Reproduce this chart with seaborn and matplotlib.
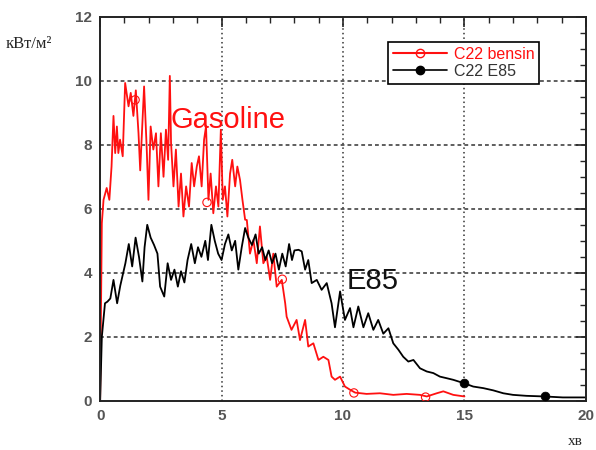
import matplotlib
matplotlib.use("Agg")
import matplotlib.pyplot as plt
from matplotlib.lines import Line2D
from matplotlib.ticker import MultipleLocator
import seaborn as sns

# C22 bensin (gasoline)
bensin_x = [0, 0.07, 0.14, 0.27, 0.38, 0.47, 0.55, 0.62, 0.69, 0.75, 0.82, 0.93,
            1.03, 1.17, 1.26, 1.37, 1.47, 1.58, 1.65, 1.76, 1.81, 1.92, 1.99,
            2.08, 2.19, 2.30, 2.40, 2.50, 2.61, 2.71, 2.80, 2.87, 2.92,
            3.02, 3.12, 3.23, 3.33, 3.43, 3.54, 3.66, 3.77, 3.87, 3.98,
            4.07, 4.18, 4.28, 4.36, 4.46, 4.55, 4.66, 4.77, 4.87, 4.97,
            5.05, 5.14, 5.24, 5.35, 5.44, 5.56, 5.65, 5.76, 5.86, 5.97,
            6.04, 6.17, 6.31, 6.45, 6.58, 6.72, 6.86, 7.00, 7.13, 7.27, 7.48,
            7.62, 7.68, 7.88, 8.09, 8.23, 8.44, 8.57, 8.78, 8.99, 9.19, 9.40,
            9.53, 9.67, 9.88, 10.08, 10.29, 10.50, 10.97, 11.52, 12.07, 12.62,
            13.17, 13.45, 13.86, 14.13, 14.54, 15.00]
bensin_y = [0, 5.55, 6.28, 6.65, 6.28, 7.32, 8.9, 7.74, 8.57, 7.74, 8.16, 7.64,
            9.93, 9.2, 9.62, 8.9, 9.7, 8.36, 7.2, 9.0, 9.82, 7.85, 6.28,
            8.57, 7.85, 8.36, 6.7, 8.36, 7.0, 8.47, 7.53, 10.15, 8.06,
            6.7, 7.85, 6.07, 7.1, 5.76, 6.7, 6.07, 7.43, 6.7, 7.32,
            7.64, 6.7, 8.16, 8.57, 6.28, 7.1, 5.86, 6.7, 6.07, 8.47,
            6.28, 6.7, 5.76, 7.1, 7.53, 6.7, 7.32, 6.9, 6.28, 5.66,
            5.65, 4.6, 5.03, 4.3, 5.45, 4.3, 4.5, 3.78, 4.6, 3.57, 3.78,
            3.05, 2.63, 2.22, 2.53, 1.9, 2.53, 1.7, 1.8, 1.28, 1.38, 1.28,
            0.76, 0.66, 0.76, 0.45, 0.35, 0.26, 0.22, 0.24, 0.19, 0.22,
            0.19, 0.14, 0.24, 0.3, 0.19, 0.14]
bensin_mark_x = [1.44, 4.4, 7.5, 10.45, 13.4]
bensin_mark_y = [9.4, 6.2, 3.8, 0.25, 0.12]

# C22 E85
e85_x = [0, 0.07, 0.2, 0.3, 0.42, 0.55, 0.7, 0.83, 1.04, 1.18, 1.32, 1.46, 1.6,
         1.74, 1.83, 1.94, 2.08, 2.22, 2.36, 2.47, 2.64, 2.78, 2.92, 3.06, 3.2,
         3.33, 3.47, 3.6, 3.75, 3.9, 4.03, 4.17, 4.33, 4.44, 4.58, 4.72, 4.86,
         5.0, 5.14, 5.28, 5.42, 5.56, 5.69, 5.83, 5.97, 6.1, 6.25, 6.4, 6.53,
         6.67, 6.8, 6.94, 7.08, 7.22, 7.36, 7.5, 7.64, 7.78, 7.9, 8.0, 8.17,
         8.3, 8.44, 8.57, 8.71, 8.92, 9.12, 9.33, 9.53, 9.67, 9.88, 10.08,
         10.29, 10.43, 10.63, 10.84, 11.04, 11.25, 11.45, 11.66, 11.87, 12.07,
         12.28, 12.48, 12.69, 12.9, 13.17, 13.45, 13.72, 13.99, 14.27, 14.54,
         15.0, 15.36, 15.78, 16.19, 16.6, 17.0, 17.55, 18.3, 19.05, 19.95]
e85_y = [0, 2.0, 3.05, 3.1, 3.2, 3.78, 3.05, 3.6, 4.3, 4.9, 4.2, 5.1, 4.5,
         3.73, 4.8, 5.5, 5.1, 4.87, 4.6, 3.57, 3.26, 4.3, 3.78, 4.1, 3.57,
         4.05, 3.7, 4.4, 4.9, 4.3, 4.8, 4.5, 5.0, 4.4, 5.5, 5.0, 4.6,
         4.4, 4.9, 5.2, 4.7, 5.0, 4.1, 4.8, 5.4, 5.1, 4.87, 5.2, 4.6,
         4.8, 4.4, 4.7, 4.3, 4.6, 4.1, 4.6, 4.2, 4.9, 4.4, 4.7, 4.72,
         4.67, 4.1, 4.4, 3.68, 3.78, 3.47, 3.68, 3.05, 2.3, 3.42, 2.53,
         2.9, 2.3, 2.95, 2.3, 2.74, 2.22, 2.53, 2.1, 2.27, 1.8,
         1.6, 1.38, 1.23, 1.28, 1.02, 0.92, 0.87, 0.76, 0.71, 0.66,
         0.55, 0.45, 0.4, 0.33, 0.24, 0.19, 0.16, 0.14, 0.11, 0.11]
e85_mark_x = [15.0, 18.3]
e85_mark_y = [0.55, 0.14]

labels = ["C22 bensin", "C22 E85"]
x_ticks = [0, 5, 10, 15, 20]
y_ticks = [0, 2, 4, 6, 8, 10, 12]

sns.set_style("white")
plt.rcParams['font.family'] = ['Liberation Sans', 'DejaVu Sans']

fig = plt.figure(figsize=(5.96, 4.5), dpi=100)
ax = fig.add_axes([0.168, 0.109, 0.815, 0.854])

red = "#ff1010"
sns.lineplot(x=bensin_x, y=bensin_y, color=red, linewidth=1.3, ax=ax,
             estimator=None, sort=False)
sns.lineplot(x=e85_x, y=e85_y, color="black", linewidth=1.3, ax=ax,
             estimator=None, sort=False)
sns.scatterplot(x=bensin_mark_x, y=bensin_mark_y, marker="o", s=36,
                facecolor="none", edgecolor=red, linewidth=0.8, ax=ax, zorder=3)
sns.scatterplot(x=e85_mark_x, y=e85_mark_y, marker="o", s=40,
                color="black", edgecolor="black", ax=ax, zorder=3)

ax.set_xlim(0, 20)
ax.set_ylim(0, 12)
ax.set_xticks(x_ticks)
ax.set_yticks(y_ticks)
ax.xaxis.set_minor_locator(MultipleLocator(1))
ax.yaxis.set_minor_locator(MultipleLocator(0.5))
ax.tick_params(which="major", direction="in", top=True, right=True,
               length=7, width=1.2, labelsize=11, labelcolor="#555555", pad=6)
ax.tick_params(which="minor", direction="in", top=True, right=True,
               length=4, width=1.0)
for lbl in ax.get_xticklabels() + ax.get_yticklabels():
    lbl.set_fontweight("bold")
for sp in ax.spines.values():
    sp.set_visible(True)
    sp.set_color("#222222")
    sp.set_linewidth(1.4)

ax.grid(False)
for xv in [5, 10, 15]:
    ax.axvline(xv, color="#333333", linestyle=(0, (1, 2)), linewidth=1.1, zorder=0)
for yv in [2, 4, 6, 8, 10]:
    ax.axhline(yv, color="#333333", linestyle=(0, (2.5, 2)), linewidth=1.1, zorder=0)

ax.set_xlabel("")
ax.set_ylabel("")

ax.text(2.88, 8.53, "Gasoline", color=red, fontsize=21)
ax.text(10.15, 3.5, "E85", color="#111111", fontsize=21)

handles = [
    Line2D([], [], color=red, linewidth=1.5, marker="o", markersize=6,
           markerfacecolor="none", markeredgecolor=red),
    Line2D([], [], color="black", linewidth=1.2, marker="o", markersize=6),
]
leg = ax.legend(handles, labels, loc="upper left", bbox_to_anchor=(0.593, 0.934),
                fontsize=11.5, handlelength=3.4, fancybox=False, framealpha=1,
                edgecolor="black", borderpad=0.3, labelspacing=0.12,
                handletextpad=0.4, borderaxespad=0)
leg.get_frame().set_linewidth(1.2)
leg.texts[0].set_color(red)
leg.texts[1].set_color("#333333")

fig.text(0.01, 0.893, "кВт/м²", fontsize=12, family="Liberation Serif")
fig.text(0.953, 0.012, "хв", fontsize=11, family="Liberation Serif")

fig.savefig("out.png", dpi=100)
